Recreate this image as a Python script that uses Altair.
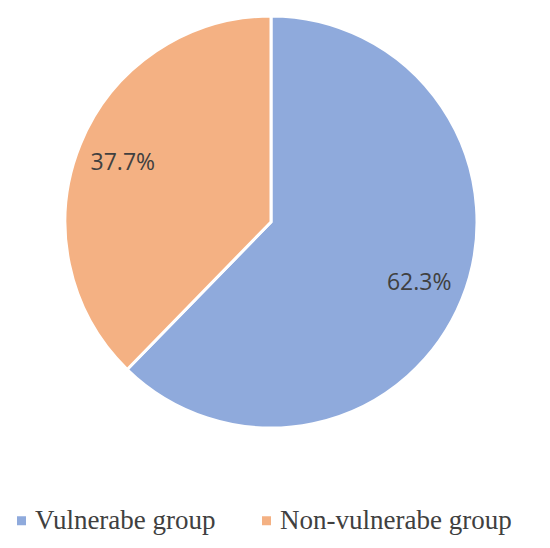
import altair as alt
import pandas as pd

categories = ["Vulnerabe group", "Non-vulnerabe group"]
values = [62.3, 37.7]
labels = ["62.3%", "37.7%"]
colors = ["#8FAADC", "#F4B183"]

df = pd.DataFrame({"group": categories, "value": values, "label": labels, "order": [0, 1]})

color = alt.Color("group:N", sort=categories,
                  scale=alt.Scale(domain=categories, range=colors),
                  legend=alt.Legend(orient="none", legendX=0, legendY=499, direction="horizontal",
                                    title=None, symbolType="square", symbolSize=81,
                                    symbolStrokeWidth=0, labelFont="Liberation Serif",
                                    labelFontSize=27, labelColor="#404040",
                                    labelOffset=0, columnPadding=37, labelLimit=400))

base = alt.Chart(df).encode(
    theta=alt.Theta("value:Q", stack=True),
    order=alt.Order("order:Q"),
)

pie = base.mark_arc(radius=206, stroke="white", strokeWidth=3).encode(
    color=color,
    x=alt.value(263), y=alt.value(214),
)

text = base.mark_text(radius=160, font="Open Sans", fontSize=23, color="#404040").encode(
    text="label:N",
    x=alt.value(263), y=alt.value(215),
)

chart = (pie + text).properties(width=534, height=532, autosize="none", padding=0
).configure_view(stroke=None)

chart.save("out.html", embed_options={"renderer": "svg", "actions": False})
